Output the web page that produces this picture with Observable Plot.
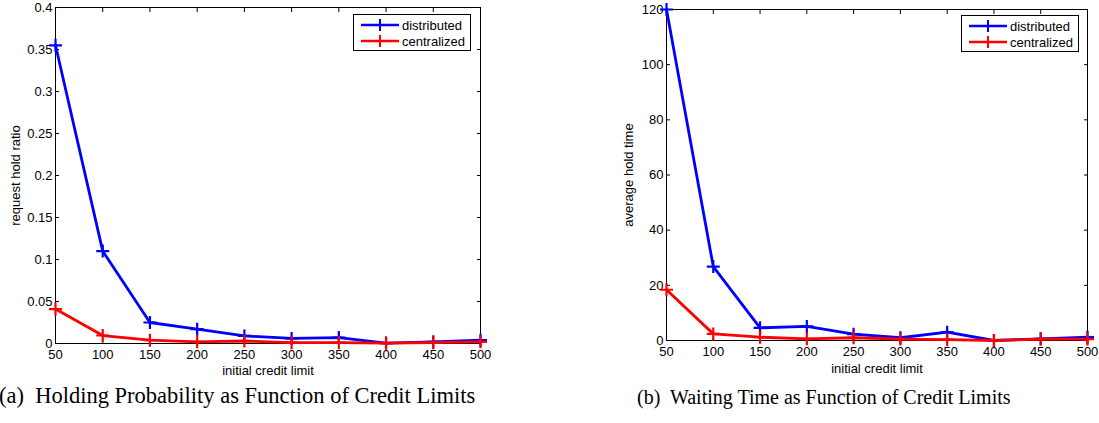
<!DOCTYPE html>
<html>
<head>
<meta charset="utf-8">
<script src="https://cdn.jsdelivr.net/npm/d3@7"></script>
<script src="https://cdn.jsdelivr.net/npm/@observablehq/plot@0.6"></script>
<style>
  html, body { margin: 0; padding: 0; background: #fff; }
  #root { position: relative; width: 1099px; height: 423px; overflow: hidden; background: #fff; }
  .chart { position: absolute; top: 0; }
  .legend { position: absolute; border: 1px solid #000; background: #fff; box-sizing: border-box;
            font-family: "Liberation Sans", Arial, sans-serif; font-size: 13px; color: #000; }
  .legend .row { position: absolute; left: 0; height: 16px; display: flex; align-items: center; white-space: nowrap; }
  .legend svg { display: block; margin-left: 7px; margin-right: 3px; }
  .caption { position: absolute; font-family: "Liberation Serif", "Times New Roman", serif; font-size: 20px;
             line-height: 20px; white-space: pre; color: #000; }
</style>
</head>
<body>
<div id="root"></div>
<script>
// ---- data ----
const creditLimits = [50, 100, 150, 200, 250, 300, 350, 400, 450, 500];
const seriesNames = ["distributed", "centralized"];
const seriesColors = ["#0000ff", "#ff0000"];

const holdRatioDistributed = [0.355, 0.110, 0.025, 0.017, 0.009, 0.006, 0.007, 0.0005, 0.002, 0.004];
const holdRatioCentralized = [0.041, 0.0095, 0.004, 0.002, 0.003, 0.001, 0.001, 0.0005, 0.001, 0.002];

const holdTimeDistributed = [120, 26.8, 4.6, 5.1, 2.3, 1.0, 3.0, 0.0, 0.6, 1.2];
const holdTimeCentralized = [18.4, 2.4, 1.2, 0.6, 1.0, 0.5, 0.3, 0.0, 0.5, 0.5];

const holdRatioTicks = [0, 0.05, 0.1, 0.15, 0.2, 0.25, 0.3, 0.35, 0.4];
const holdTimeTicks = [0, 20, 40, 60, 80, 100, 120];

const xLabel = "initial credit limit";
const captionA = "(a)  Holding Probability as Function of Credit Limits";
const captionB = "(b)  Waiting Time as Function of Credit Limits";

// ---- helpers ----
const crossSymbol = {
  draw(context, size) {
    const r = Math.sqrt(size / Math.PI);
    context.moveTo(-r, 0); context.lineTo(r, 0);
    context.moveTo(0, -r); context.lineTo(0, r);
  }
};

function toRows(dist, cent) {
  const rows = [];
  [dist, cent].forEach((vals, s) => {
    vals.forEach((v, i) => rows.push({x: creditLimits[i], y: v, series: seriesNames[s]}));
  });
  return rows;
}

const plainFormat = d => String(+d.toFixed(4));

function makeChart(o) {
  const rows = toRows(o.dist, o.cent);
  const marks = [
    Plot.frame({stroke: "#000", strokeWidth: 1}),
    Plot.axisX(creditLimits, {anchor: "bottom", tickSize: 0, tickPadding: 6, tickFormat: plainFormat, label: xLabel,
      labelAnchor: "center", labelOffset: o.xLabelOffset, labelArrow: "none"}),
    Plot.axisX(creditLimits, {anchor: "bottom", tickSize: -4, tickFormat: () => "", label: null}),
    Plot.axisX(creditLimits, {anchor: "top", tickSize: -4, tickFormat: () => "", label: null}),
    Plot.axisY(o.yTicks, {anchor: "left", tickSize: 0, tickPadding: 3, tickFormat: plainFormat, label: o.yLabel,
      labelAnchor: "center", labelOffset: o.yLabelOffset, labelArrow: "none"}),
    Plot.axisY(o.yTicks, {anchor: "left", tickSize: -4, tickFormat: () => "", label: null}),
    Plot.axisY(o.yTicks, {anchor: "right", tickSize: -4, tickFormat: () => "", label: null})
  ];
  seriesNames.forEach((name) => {
    const d = rows.filter(r => r.series === name);
    marks.push(Plot.line(d, {x: "x", y: "y", stroke: "series", strokeWidth: 2.8}));
    marks.push(Plot.dot(d, {x: "x", y: "y", stroke: "series", symbol: crossSymbol, r: 6.5, strokeWidth: 2.2, fill: "none"}));
  });
  return Plot.plot({
    width: o.width, height: o.height,
    marginLeft: o.marginLeft, marginRight: o.marginRight, marginTop: o.marginTop, marginBottom: o.marginBottom,
    style: {fontFamily: "'Liberation Sans', Arial, sans-serif", fontSize: "13px", color: "#000", background: "transparent", overflow: "visible"},
    x: {domain: [50, 500]},
    y: {domain: o.yDomain},
    color: {domain: seriesNames, range: seriesColors},
    marks
  });
}

function addLegend(root, left, top) {
  const lg = document.createElement("div");
  lg.className = "legend";
  Object.assign(lg.style, {left: left + "px", top: top + "px", width: "118px", height: "37px"});
  seriesNames.forEach((name, i) => {
    const row = document.createElement("div");
    row.className = "row";
    row.style.top = (2 + i * 16) + "px";
    const svg = d3.create("svg").attr("width", 38).attr("height", 16);
    svg.append("line").attr("x1", 0).attr("x2", 38).attr("y1", 8).attr("y2", 8)
      .attr("stroke", seriesColors[i]).attr("stroke-width", 2.6);
    svg.append("path").attr("d", "M13,8H25M19,2V14").attr("stroke", seriesColors[i]).attr("stroke-width", 2).attr("fill", "none");
    row.appendChild(svg.node());
    const t = document.createElement("span");
    t.textContent = name;
    row.appendChild(t);
    lg.appendChild(row);
  });
  root.appendChild(lg);
}

function addCaption(root, text, left, top, size) {
  const c = document.createElement("div");
  c.className = "caption";
  c.textContent = text;
  c.style.left = left + "px";
  c.style.top = top + "px";
  c.style.fontSize = size + "px";
  c.style.lineHeight = size + "px";
  root.appendChild(c);
}

const root = document.getElementById("root");

const chartA = makeChart({
  dist: holdRatioDistributed, cent: holdRatioCentralized,
  yDomain: [0, 0.4], yTicks: holdRatioTicks, yLabel: "request hold ratio",
  width: 550, height: 380, marginLeft: 55, marginRight: 70, marginTop: 7, marginBottom: 37,
  xLabelOffset: 31, yLabelOffset: 45
});
chartA.classList.add("chart");
chartA.style.left = "0px";
root.appendChild(chartA);

const chartB = makeChart({
  dist: holdTimeDistributed, cent: holdTimeCentralized,
  yDomain: [0, 120], yTicks: holdTimeTicks, yLabel: "average hold time",
  width: 549, height: 380, marginLeft: 116, marginRight: 12, marginTop: 9, marginBottom: 40,
  xLabelOffset: 32, yLabelOffset: 43
});
chartB.classList.add("chart");
chartB.style.left = "550px";
root.appendChild(chartB);

addLegend(root, 353, 14);
addLegend(root, 961, 15);

addCaption(root, captionA, -1, 385, 22.5);
addCaption(root, captionB, 637, 387, 20);
</script>
</body>
</html>
